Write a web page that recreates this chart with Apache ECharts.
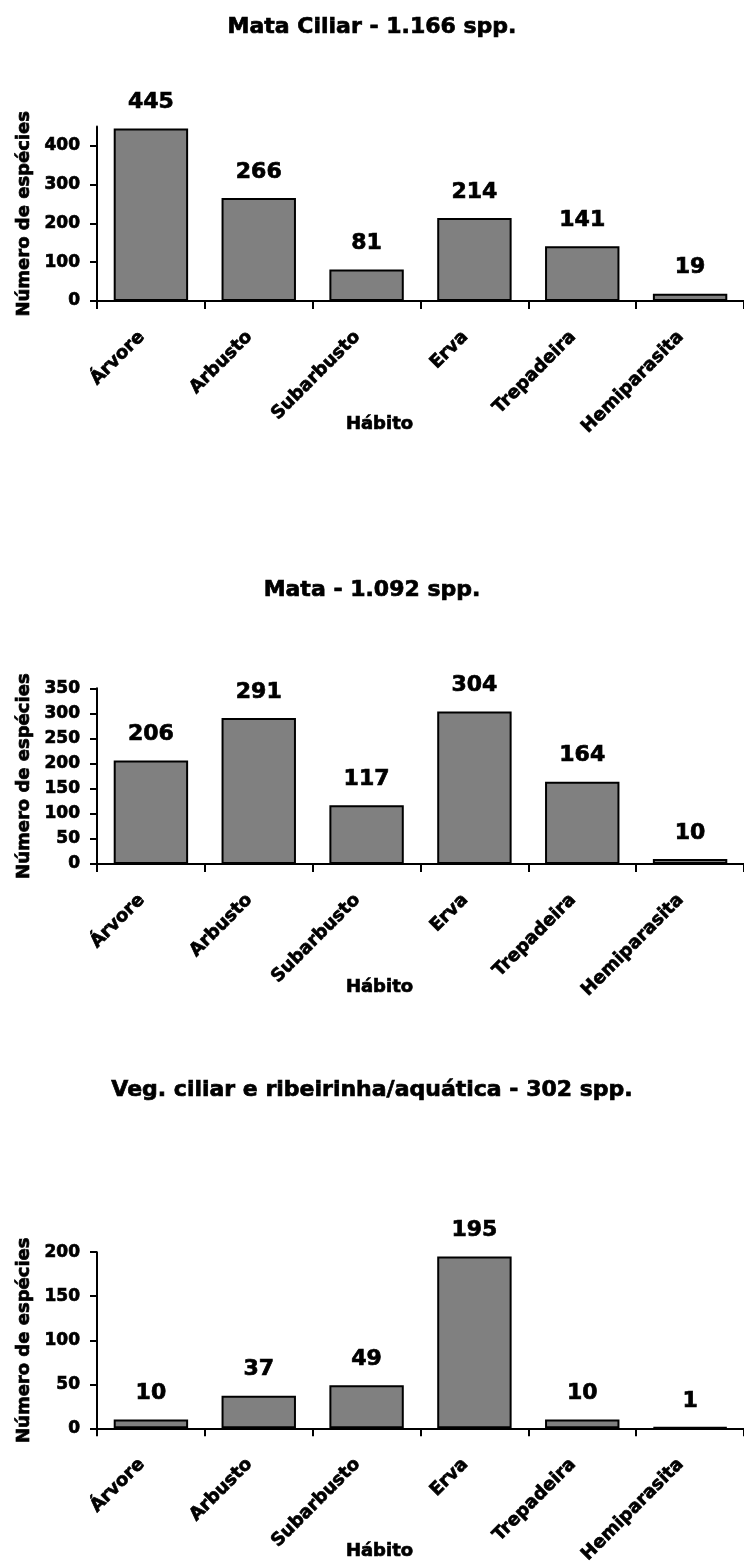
<!DOCTYPE html>
<html>
<head>
<meta charset="utf-8">
<script src="https://cdn.jsdelivr.net/npm/echarts@6/dist/echarts.min.js"></script>
<style>
  html, body { margin: 0; padding: 0; background: #ffffff; }
  #chart { width: 744px; height: 1562px; }
</style>
</head>
<body>
<div id="chart"></div>
<script>
// Growth habits (x categories), shared by the three panels
const categories = ['Árvore', 'Arbusto', 'Subarbusto', 'Erva', 'Trepadeira', 'Hemiparasita'];

// Panel titles
const panelTitles = [
  'Mata Ciliar - 1.166 spp.',
  'Mata - 1.092 spp.',
  'Veg. ciliar e ribeirinha/aquática - 302 spp.'
];

// Number of species per habit
const mataCiliar = [445, 266, 81, 214, 141, 19];
const mata = [206, 291, 117, 304, 164, 10];
const vegCiliarAquatica = [10, 37, 49, 195, 10, 1];

// Value-axis tick labels and axis ceilings
const ticksMataCiliar = [0, 100, 200, 300, 400];
const ticksMata = [0, 50, 100, 150, 200, 250, 300, 350];
const ticksVegCiliar = [0, 50, 100, 150, 200];
const axisMax = [450, 350, 200];

const xAxisName = 'Hábito';
const yAxisName = 'Número de espécies';

const seriesData = [mataCiliar, mata, vegCiliarAquatica];
const tickSets = [ticksMataCiliar, ticksMata, ticksVegCiliar];

// Layout of the three stacked panels (pixels)
const FONT = 'DejaVu Sans';
const layout = [
  { titleTop: 16, gridTop: 126.6, gridHeight: 174.4 },
  { titleTop: 579, gridTop: 688.3, gridHeight: 175.7 },
  { titleTop: 1079, gridTop: 1252.2, gridHeight: 176.1 }
];

const axisLineStyle = { color: '#000000', width: 2 };

// Heavy black text used throughout
function boldText(size, extra) {
  return Object.assign({
    fontFamily: FONT,
    fontWeight: 'bold',
    fontSize: size,
    color: '#000000',
    textBorderColor: '#000000',
    textBorderWidth: 0.7
  }, extra || {});
}

const option = {
  backgroundColor: '#ffffff',
  animation: false,
  title: layout.map((p, i) => ({
    text: panelTitles[i],
    left: 'center',
    top: p.titleTop,
    padding: 0,
    textStyle: boldText(22)
  })),
  grid: layout.map(p => ({
    left: 97,
    right: 0,
    top: p.gridTop,
    height: p.gridHeight,
    containLabel: false,
    outerBoundsMode: 'none'
  })),
  xAxis: layout.map((p, i) => ({
    type: 'category',
    gridIndex: i,
    data: categories,
    name: xAxisName,
    nameLocation: 'middle',
    nameGap: 114,
    nameMoveOverlap: false,
    nameTextStyle: boldText(18, { padding: [0, 82, 0, 0] }),
    axisLine: { show: true, lineStyle: axisLineStyle },
    axisTick: { show: true, alignWithLabel: false, length: 8, lineStyle: axisLineStyle },
    axisLabel: boldText(18, {
      interval: 0,
      rotate: 45,
      margin: 24,
      padding: [0, 13, 0, 0]
    }),
    splitLine: { show: false }
  })),
  yAxis: layout.map((p, i) => ({
    type: 'value',
    gridIndex: i,
    min: 0,
    max: axisMax[i],
    interval: tickSets[i][1] - tickSets[i][0],
    name: yAxisName,
    nameLocation: 'middle',
    nameGap: 64,
    nameTextStyle: boldText(18),
    axisLine: { show: true, lineStyle: axisLineStyle },
    axisTick: { show: true, length: 7, lineStyle: axisLineStyle, customValues: tickSets[i] },
    axisLabel: boldText(17, { margin: 17, customValues: tickSets[i] }),
    splitLine: { show: false }
  })),
  series: seriesData.map((values, i) => ({
    type: 'bar',
    xAxisIndex: i,
    yAxisIndex: i,
    data: values,
    barWidth: '69%',
    itemStyle: { color: '#808080', borderColor: '#000000', borderWidth: 2 },
    label: boldText(22, { show: true, position: 'top', distance: 15 })
  }))
};

const chart = echarts.init(document.getElementById('chart'));
chart.setOption(option);
</script>
</body>
</html>
